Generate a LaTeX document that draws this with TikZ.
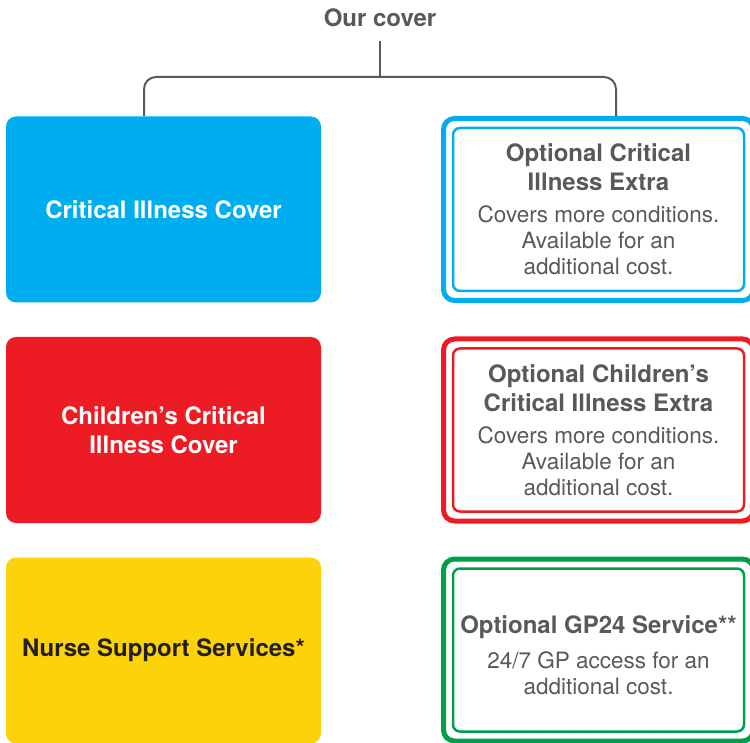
\documentclass[tikz,border=0pt]{standalone}
\usepackage{fontspec}
\setmainfont{TeX Gyre Heros}
\usepackage{tikz}
\usetikzlibrary{calc}

\definecolor{coverblue}{HTML}{00AEEF}
\definecolor{coverred}{HTML}{ED1C24}
\definecolor{coveryellow}{HTML}{FCD20A}
\definecolor{covergreen}{HTML}{00A04B}
\definecolor{covergray}{HTML}{58595B}
\definecolor{coverdark}{HTML}{231F20}

\newcommand{\hdfont}{\fontsize{24}{29}\selectfont\bfseries}
\newcommand{\bdfont}{\fontsize{22.5}{26}\selectfont}

\tikzset{
  basebox/.style={rectangle, rounded corners=10pt, minimum width=315pt, minimum height=186pt,
    align=center, font=\hdfont, text=white},
  outerbox/.style={rectangle, rounded corners=11pt, line width=5pt, minimum width=310pt,
    minimum height=182pt},
  innerbox/.style={rectangle, rounded corners=7pt, line width=2.5pt, minimum width=291pt,
    minimum height=163pt, align=center, font=\bdfont, text=covergray},
  link/.style={draw=covergray, line width=2pt}
}

\begin{document}
\begin{tikzpicture}[x=1pt,y=-1pt]
\useasboundingbox (0,0) rectangle (750,743);

\coordinate (top) at (380,41);
\coordinate (hub) at (380,77);
\coordinate (lft) at (144,116);
\coordinate (rgt) at (616,116);

\node[font=\hdfont, text=covergray] (title) at (380,18) {Our cover};

% base cover on the left
\node[basebox, fill=coverblue] (ci) at (163.5,209.5) {Critical Illness Cover};
\node[basebox, fill=coverred] (cci) at (163.5,430) {Children’s Critical\\Illness Cover};
\node[basebox, fill=coveryellow, text=coverdark] (nss) at (163.5,650.5) {Nurse Support Services*};

% optional extras on the right
\node[outerbox, draw=coverblue] (ciextra) at (598.5,209.5) {};
\node[innerbox, draw=coverblue] (ciextra-in) at (ciextra) {{\hdfont Optional Critical}\\[3pt]{\hdfont Illness Extra}\\[6pt]Covers more conditions.\\Available for an\\additional cost.};

\node[outerbox, draw=coverred] (cciextra) at (598.5,430) {};
\node[innerbox, draw=coverred] (cciextra-in) at (cciextra) {{\hdfont Optional Children’s}\\[3pt]{\hdfont Critical Illness Extra}\\[6pt]Covers more conditions.\\Available for an\\additional cost.};

\node[outerbox, draw=covergreen] (gp) at (598.5,650) {};
\node[innerbox, draw=covergreen, text depth=0pt] (gp-in) at (gp) {};
\node[align=center, font=\bdfont, text=covergray] (gp-txt) at ($(gp-in)+(0,5)$) {{\hdfont Optional GP24 Service**}\\[9pt]24/7 GP access for an\\additional cost.};

\draw[link] (top)--(hub);
\draw[link, rounded corners=12pt] (lft) |- (hub) -| (rgt);
\end{tikzpicture}
\end{document}
